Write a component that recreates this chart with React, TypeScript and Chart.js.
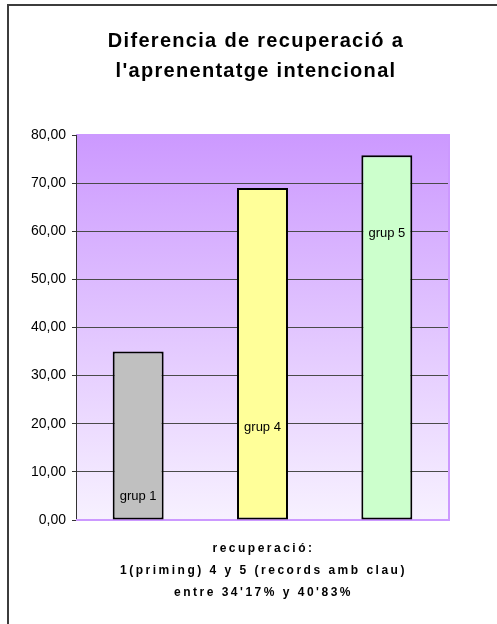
import React, { useEffect, useRef } from "react";
import { Chart, registerables } from "chart.js";

Chart.register(...registerables);

const categories = ["grup 1", "grup 4", "grup 5"];
const values = [35.0, 69.0, 75.8];
const barColors = ["#C0C0C0", "#FFFF99", "#CCFFCC"];
const labelAnchors = [5.0, 19.3, 59.6];
const titleLines = ["Diferencia de recuperació a", "l'aprenentatge intencional"];
const xTitleLines = [
  "recuperació:",
  "1(priming) 4 y 5 (records amb clau)",
  "entre 34'17% y 40'83%",
];
const yMin = 0;
const yMax = 80;
const yStep = 10;

const W = 497;
const H = 624;
const FONT = "'Liberation Sans', Arial, sans-serif";

const decor = {
  id: "decor",
  beforeDraw(chart: any) {
    const { ctx, chartArea } = chart;
    ctx.save();
    ctx.fillStyle = "#FFFFFF";
    ctx.fillRect(0, 0, W, H);
    const g = ctx.createLinearGradient(0, chartArea.top, 0, chartArea.bottom);
    g.addColorStop(0, "#CC99FF");
    g.addColorStop(1, "#F7F1FF");
    ctx.fillStyle = g;
    ctx.fillRect(chartArea.left, chartArea.top - 1, chartArea.right - chartArea.left, chartArea.bottom - chartArea.top + 1);
    ctx.fillStyle = "#3C3C3C";
    ctx.fillRect(7, 4, W - 7, 2);
    ctx.fillRect(7, 4, 2, H - 4);
    ctx.restore();
  },
  beforeDatasetsDraw(chart: any) {
    const { ctx, chartArea } = chart;
    ctx.save();
    ctx.strokeStyle = "#CC99FF";
    ctx.lineWidth = 2;
    ctx.beginPath();
    ctx.moveTo(chartArea.left, chartArea.bottom);
    ctx.lineTo(chartArea.right, chartArea.bottom);
    ctx.moveTo(chartArea.right, chartArea.top - 1);
    ctx.lineTo(chartArea.right, chartArea.bottom + 1);
    ctx.stroke();
    ctx.restore();
  },
  afterDatasetsDraw(chart: any) {
    const { ctx, chartArea } = chart;
    const meta = chart.getDatasetMeta(0);
    const yScale = chart.scales.y;
    ctx.save();
    ctx.fillStyle = "#000000";
    ctx.font = `13px ${FONT}`;
    ctx.textAlign = "center";
    ctx.textBaseline = "middle";
    meta.data.forEach((el: any, i: number) => {
      ctx.fillText(categories[i], el.x, yScale.getPixelForValue(labelAnchors[i]));
    });
    ctx.font = `bold 20px ${FONT}`;
    (ctx as any).letterSpacing = "1.3px";
    titleLines.forEach((t, i) => ctx.fillText(t, 256, 41 + i * 30));
    ctx.font = `bold 12px ${FONT}`;
    (ctx as any).letterSpacing = "2.5px";
    const cx = (chartArea.left + chartArea.right) / 2 + 1;
    xTitleLines.forEach((t, i) => ctx.fillText(t, cx, 549 + i * 22));
    ctx.restore();
  },
};

export default function App() {
  const ref = useRef<HTMLCanvasElement>(null);
  useEffect(() => {
    if (!ref.current) return;
    const chart = new Chart(ref.current, {
      type: "bar",
      data: {
        labels: categories,
        datasets: [
          {
            data: values,
            backgroundColor: barColors,
            borderColor: "#000000",
            borderWidth: 2,
            borderSkipped: false,
            barPercentage: 0.41,
            categoryPercentage: 1,
          },
        ],
      },
      options: {
        responsive: false,
        animation: false,
        layout: { padding: { top: 135, right: 48, left: 0, bottom: 0 } },
        plugins: {
          legend: { display: false },
          title: { display: false },
          tooltip: { enabled: false },
        },
        scales: {
          x: {
            ticks: { display: false },
            grid: { display: false, drawTicks: false },
            border: { display: false },
            afterFit(scale: any) {
              scale.height = 104;
            },
          },
          y: {
            min: yMin,
            max: yMax,
            ticks: {
              stepSize: yStep,
              padding: 6,
              color: "#000000",
              font: { family: FONT, size: 14 },
              callback: (v: any) => Number(v).toFixed(2).replace(".", ","),
            },
            grid: {
              color: (c: any) =>
                c.tick && (c.tick.value === yMin || c.tick.value === yMax) ? "rgba(0,0,0,0)" : "#4A4A4A",
              lineWidth: 1,
              drawTicks: true,
              tickLength: 4,
              tickColor: "#333333",
            },
            border: { display: true, color: "#333333", width: 1 },
            afterFit(scale: any) {
              scale.width = 76;
            },
          },
        },
      },
      plugins: [decor],
    });
    return () => chart.destroy();
  }, []);
  return (
    <div style={{ position: "absolute", left: 0, top: 0, width: W, height: H, background: "#fff" }}>
      <canvas ref={ref} width={W} height={H} style={{ display: "block" }} />
    </div>
  );
}
